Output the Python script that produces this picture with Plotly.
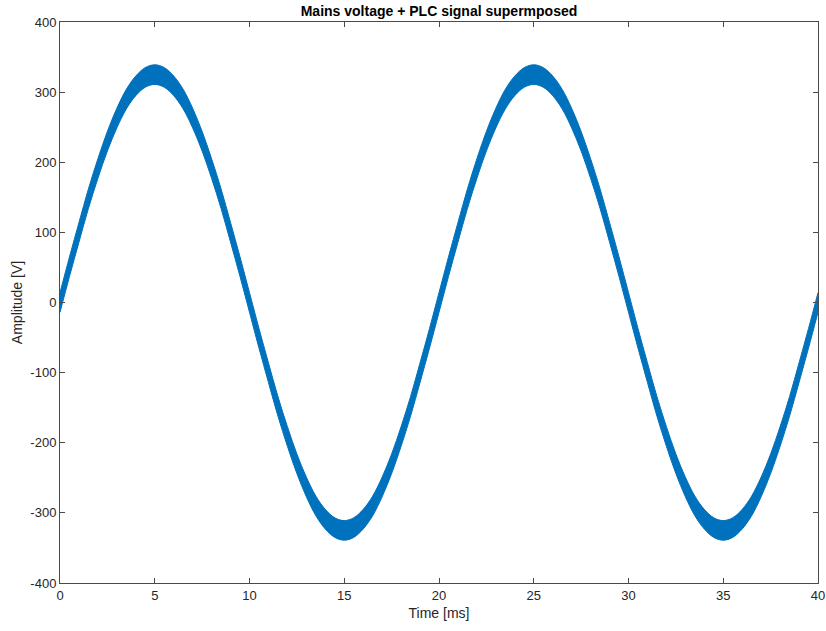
import plotly.graph_objects as go

# Time samples [ms], 0.5 ms step
t_ms = [i * 0.5 for i in range(0, 81)]
# Mains voltage [V] (325 V peak, 50 Hz), one half-cycle per 10 ms
half_pos = [0, 51, 100, 148, 191, 230, 263, 290, 309, 321,
            325, 321, 309, 290, 263, 230, 191, 148, 100, 51]
half_neg = [0, -51, -100, -148, -191, -230, -263, -290, -309, -321,
            -325, -321, -309, -290, -263, -230, -191, -148, -100, -51]
mains_v = half_pos + half_neg + half_pos + half_neg + [0]
# PLC signal envelope half-width [V]
plc_amp = 14

x_ticks = [0, 5, 10, 15, 20, 25, 30, 35, 40]
x_ticktext = ["0", "5", "10", "15", "20", "25", "30", "35", "40"]
y_ticks = [-400, -300, -200, -100, 0, 100, 200, 300, 400]
y_ticktext = ["-400", "-300", "-200", "-100", "0", "100", "200", "300", "400"]

upper = [v + plc_amp for v in mains_v]
lower = [v - plc_amp for v in mains_v]

blue = "#0072BD"
fig = go.Figure()
fig.add_trace(go.Scatter(x=t_ms, y=lower, mode="lines",
                         line=dict(color=blue, width=1, shape="spline"),
                         hoverinfo="skip", showlegend=False))
fig.add_trace(go.Scatter(x=t_ms, y=upper, mode="lines", fill="tonexty",
                         fillcolor=blue,
                         line=dict(color=blue, width=1, shape="spline"),
                         showlegend=False))

axis_common = dict(showgrid=False, zeroline=False, showline=True,
                   linecolor="#4a4a4a", linewidth=1, mirror="ticks",
                   ticks="inside", ticklen=5, tickcolor="#4a4a4a",
                   tickfont=dict(family="Liberation Sans, Arial", size=13, color="#262626"))

fig.update_layout(
    width=826, height=631,
    margin=dict(l=60, r=8, t=22, b=48, autoexpand=False),
    paper_bgcolor="white", plot_bgcolor="white",
    title=dict(text="<b>Mains voltage + PLC signal supermposed</b>",
               x=0.5, xref="paper", y=1, yref="paper", yanchor="bottom", pad=dict(b=6),
               font=dict(family="Liberation Sans, Arial", size=14, color="black")),
    xaxis=dict(range=[0, 40], tickvals=x_ticks, ticktext=x_ticktext, automargin=False,
               title=dict(text="Time [ms]", standoff=6,
                          font=dict(family="Liberation Sans, Arial", size=14, color="#262626")),
               **axis_common),
    yaxis=dict(range=[-400, 400], tickvals=y_ticks, ticktext=y_ticktext, automargin=False,
               title=dict(text="Amplitude [V]", standoff=4,
                          font=dict(family="Liberation Sans, Arial", size=14, color="#262626")),
               **axis_common),
)

fig.write_html("out.html")
